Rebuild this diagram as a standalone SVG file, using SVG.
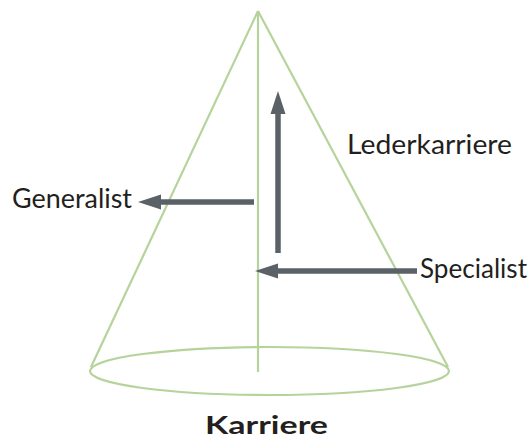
<svg xmlns="http://www.w3.org/2000/svg" width="530" height="441" viewBox="0 0 530 441">
<style>
.cone{fill:none;stroke:#b6d39c;stroke-width:2.2}
.arr{stroke:#5a6167;stroke-width:5.5;fill:none}
.head{fill:#5a6167}
text{font-family:Lato,"Open Sans",sans-serif;font-size:27px;fill:#231f20}
.b{font-weight:bold;font-size:25px}
</style>
<g id="cone">
<line class="cone" x1="258" y1="11" x2="91" y2="367"/>
<line class="cone" x1="258" y1="11" x2="448" y2="367"/>
<ellipse class="cone" cx="269.5" cy="371" rx="179.5" ry="24"/>
<line class="cone" x1="258" y1="11" x2="258" y2="372"/>
</g>
<g id="connectors">
<line class="arr" x1="254" y1="202" x2="158" y2="202"/>
<polygon class="head" points="138,202 161,194.5 161,209.5"/>
<line class="arr" x1="278" y1="253" x2="278" y2="110"/>
<polygon class="head" points="278,91 270.5,114 285.5,114"/>
<line class="arr" x1="417" y1="271" x2="274" y2="271"/>
<polygon class="head" points="255,271 278,263.5 278,278.5"/>
</g>
<g id="lederkarriere"><text x="347" y="154" textLength="165" lengthAdjust="spacingAndGlyphs">Lederkarriere</text></g>
<g id="generalist"><text x="12" y="208" textLength="120" lengthAdjust="spacingAndGlyphs">Generalist</text></g>
<g id="specialist"><text x="420" y="278" textLength="107" lengthAdjust="spacingAndGlyphs">Specialist</text></g>
<g id="karriere"><text class="b" x="205" y="434" textLength="123" lengthAdjust="spacingAndGlyphs">Karriere</text></g>
</svg>
